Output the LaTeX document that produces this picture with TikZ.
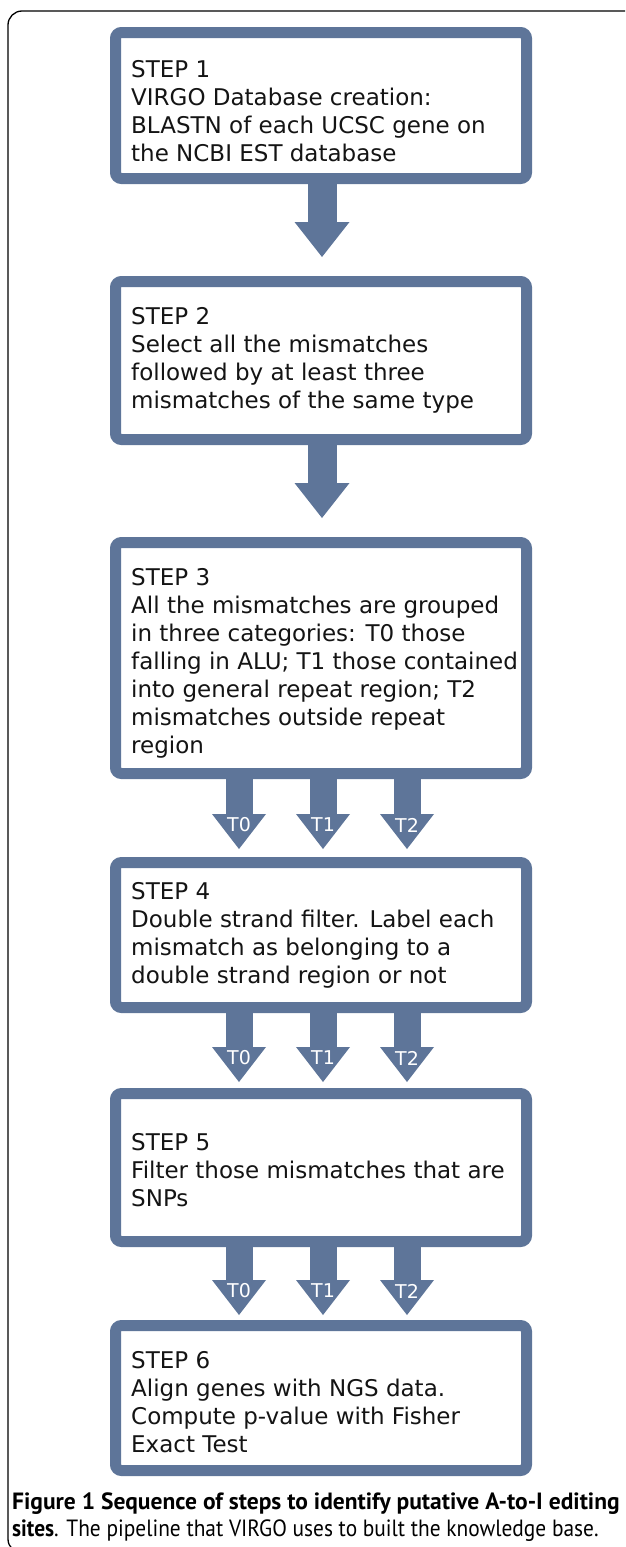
\documentclass[tikz,border=0pt]{standalone}
\usepackage{fontspec}
\setmainfont{DejaVu Sans}
\newfontfamily\capfont{PT Sans}
\usetikzlibrary{arrows.meta}
\definecolor{boxblue}{RGB}{94,117,153}
\begin{document}
\begin{tikzpicture}[x=1pt,y=-1pt,
  stepbox/.style={draw=boxblue, line width=11pt, fill=white, rounded corners=6pt,
    minimum width=411pt, inner sep=0pt},
  steptext/.style={anchor=north west, inner sep=0pt, align=left,
    font=\fontsize{23}{28}\selectfont, text=black!92},
  bigarrow/.style={draw=boxblue, line width=29pt,
    -{Triangle[width=55pt,length=35pt,line width=0pt 0]}, shorten >=19pt},
  tarrow/.style={draw=boxblue, line width=27pt,
    -{Triangle[width=54pt,length=35pt,line width=0pt 0]}},
  tlabel/.style={text=white, font=\fontsize{19}{19}\selectfont, inner sep=0pt},
  captext/.style={anchor=base west, inner sep=0pt, font=\capfont\fontsize{23.5}{28}\selectfont},
]
\useasboundingbox (0,0) rectangle (625,1547);
\begin{scope}
\clip (0,0) rectangle (625,1547);
\draw[line width=1.3pt, rounded corners=14pt] (8,11) rectangle (660,1553);
\end{scope}

% boxes
\node[stepbox, minimum height=146pt] (b1) at (321,105.5) {};
\node[stepbox, minimum height=158pt] (b2) at (321,360.5) {};
\node[stepbox, minimum height=231pt] (b3) at (321,658) {};
\node[stepbox, minimum height=145pt] (b4) at (321,935) {};
\node[stepbox, minimum height=148pt] (b5) at (321,1167.5) {};
\node[stepbox, minimum height=145pt] (b6) at (321,1398) {};

% texts
\node[steptext] (t1) at ([xshift=21pt,yshift=-33.6pt]b1.north west)
  {STEP 1\\VIRGO Database creation:\\BLASTN of each UCSC gene on\\the NCBI EST database};
\node[steptext] (t2) at ([xshift=21pt,yshift=-31.6pt]b2.north west)
  {STEP 2\\Select all the mismatches\\followed by at least three\\mismatches of the same type};
\node[steptext] (t3) at ([xshift=21pt,yshift=-31.6pt]b3.north west)
  {STEP 3\\All the mismatches are grouped\\in three categories: T0 those\\falling in ALU; T1 those contained\\into general repeat region; T2\\mismatches outside repeat\\region};
\node[steptext] (t4) at ([xshift=21pt,yshift=-25pt]b4.north west)
  {STEP 4\\Double strand filter. Label each\\mismatch as belonging to a\\double strand region or not};
\node[steptext] (t5) at ([xshift=21pt,yshift=-45pt]b5.north west)
  {STEP 5\\Filter those mismatches that are\\SNPs};
\node[steptext] (t6) at ([xshift=21pt,yshift=-31pt]b6.north west)
  {STEP 6\\Align genes with NGS data.\\Compute p-value with Fisher\\Exact Test};

% single arrows
\draw[bigarrow] ([xshift=1pt]b1.south) -- ([xshift=1pt]b2.north);
\draw[bigarrow] ([xshift=1pt]b2.south) -- ([xshift=1pt]b3.north);

% triple arrows
\foreach \src/\dst/\n/\g in {b3/b4/a/8, b4/b5/b/6, b5/b6/c/5}{
  \draw[tarrow, shorten >=\g pt] ([xshift=-82pt]\src.south) -- ([xshift=-82pt]\dst.north);
  \draw[tarrow, shorten >=\g pt] ([xshift=2pt]\src.south) -- ([xshift=2pt]\dst.north);
  \draw[tarrow, shorten >=\g pt] ([xshift=86pt]\src.south) -- ([xshift=86pt]\dst.north);
  \node[tlabel] (\n0) at ([xshift=-82pt,yshift=\g pt+24pt]\dst.north) {T0};
  \node[tlabel] (\n1) at ([xshift=2pt,yshift=\g pt+24pt]\dst.north) {T1};
  \node[tlabel] (\n2) at ([xshift=86pt,yshift=\g pt+24pt]\dst.north) {T2};
}

% caption
\node[captext] (cap1) at (12,1509)
  {\textbf{Figure 1 Sequence of steps to identify putative A-to-I editing}};
\node[captext] (cap2) at (12,1536)
  {\scalebox{0.91}[1]{\textbf{sites}. The pipeline that VIRGO uses to built the knowledge base.}};
\end{tikzpicture}
\end{document}
